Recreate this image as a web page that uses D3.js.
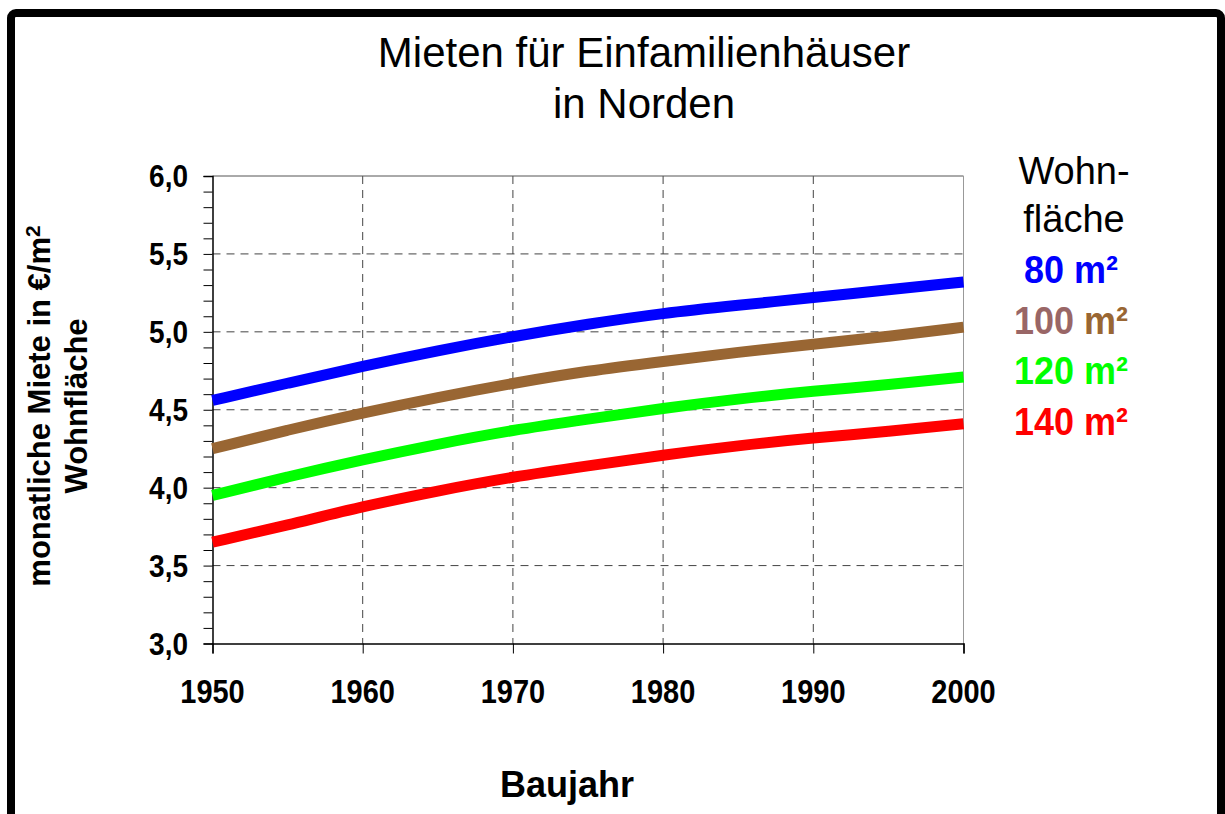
<!DOCTYPE html>
<html>
<head>
<meta charset="utf-8">
<script src="https://cdnjs.cloudflare.com/ajax/libs/d3/7.8.5/d3.min.js"></script>
<style>
  body { margin: 0; background: #fff; }
  text { font-family: "Liberation Sans", Arial, sans-serif; }
</style>
</head>
<body>
<div id="chart"></div>
<script>
var years = [1950, 1955, 1960, 1965, 1970, 1975, 1980, 1985, 1990, 1995, 2000];
var rent80  = [4.56, 4.67, 4.78, 4.88, 4.97, 5.05, 5.12, 5.17, 5.22, 5.27, 5.32];
var rent100 = [4.25, 4.37, 4.48, 4.58, 4.67, 4.75, 4.81, 4.87, 4.92, 4.97, 5.03];
var rent120 = [3.95, 4.07, 4.18, 4.28, 4.37, 4.44, 4.51, 4.57, 4.62, 4.66, 4.71];
var rent140 = [3.65, 3.76, 3.88, 3.98, 4.07, 4.14, 4.21, 4.27, 4.32, 4.36, 4.41];
var xTicks = [1950, 1960, 1970, 1980, 1990, 2000];
var yTicks = [3.0, 3.5, 4.0, 4.5, 5.0, 5.5, 6.0];

(function() {
    var width = 1225,
        height = 814;

    var svg = d3.select("#chart")
        .append("svg")
        .attr("width", width)
        .attr("height", height);

    svg.append("rect")
        .attr("width", width)
        .attr("height", height)
        .attr("fill", "#fff");

    // outer frame, bottom edge runs off the picture
    svg.append("rect")
        .attr("x", 11)
        .attr("y", 13)
        .attr("width", 1210)
        .attr("height", 900)
        .attr("rx", 5)
        .attr("fill", "none")
        .attr("stroke", "#000")
        .attr("stroke-width", 8);

    var x = d3.scaleLinear().domain([1950, 2000]).range([212.5, 963.5]);
    var y = d3.scaleLinear().domain([3, 6]).range([643.5, 176]);

    var series = [
        { name: "80", values: rent80, color: "#0000ff" },
        { name: "100", values: rent100, color: "#996633" },
        { name: "120", values: rent120, color: "#00ff00" },
        { name: "140", values: rent140, color: "#ff0000" }
    ];

    // grid
    svg.append("g")
        .selectAll("line")
        .data(yTicks.filter(function(d) { return d > 3 && d < 6; }))
        .enter().append("line")
        .attr("x1", x(1950))
        .attr("x2", x(2000))
        .attr("y1", function(d) { return y(d); })
        .attr("y2", function(d) { return y(d); })
        .attr("stroke", "#444")
        .attr("stroke-dasharray", "8,6");

    svg.append("g")
        .selectAll("line")
        .data(xTicks.slice(1))
        .enter().append("line")
        .attr("x1", function(d) { return x(d); })
        .attr("x2", function(d) { return x(d); })
        .attr("y1", y(6))
        .attr("y2", y(3))
        .attr("stroke", "#444")
        .attr("stroke-dasharray", "8,6");

    svg.append("line")
        .attr("x1", x(1950)).attr("x2", x(2000))
        .attr("y1", y(6)).attr("y2", y(6))
        .attr("stroke", "#555");

    svg.append("line")
        .attr("x1", x(2000)).attr("x2", x(2000))
        .attr("y1", y(6)).attr("y2", y(3))
        .attr("stroke", "#999");

    // axes
    var yAxis = d3.axisLeft(y)
        .tickValues(d3.range(30, 61).map(function(d) { return d / 10; }))
        .tickSize(9)
        .tickFormat("");

    svg.append("g")
        .attr("transform", "translate(" + x(1950) + ",0)")
        .call(yAxis)
        .call(function(g) {
            g.select(".domain").attr("stroke", "#000").attr("stroke-width", 1.5);
            g.selectAll(".tick line").attr("stroke", "#000");
        });

    svg.append("g")
        .selectAll("text")
        .data(yTicks)
        .enter().append("text")
        .attr("transform", function(d) { return "translate(188," + y(d) + ") scale(1,1.12)"; })
        .attr("dy", "0.36em")
        .attr("text-anchor", "end")
        .attr("font-size", 28)
        .attr("font-weight", "bold")
        .text(function(d) { return d3.format(".1f")(d).replace(".", ","); });

    var xAxis = d3.axisBottom(x)
        .tickValues(xTicks)
        .tickSize(10)
        .tickFormat("");

    svg.append("g")
        .attr("transform", "translate(0," + y(3) + ")")
        .call(xAxis)
        .call(function(g) {
            g.select(".domain").attr("stroke", "#000").attr("stroke-width", 1.5);
            g.selectAll(".tick line").attr("stroke", "#000");
        });

    svg.append("g")
        .selectAll("text")
        .data(xTicks)
        .enter().append("text")
        .attr("transform", function(d) { return "translate(" + x(d) + ",703) scale(1,1.12)"; })
        .attr("text-anchor", "middle")
        .attr("font-size", 29)
        .attr("font-weight", "bold")
        .text(function(d) { return d; });

    // lines
    var line = d3.line()
        .x(function(d, i) { return x(years[i]); })
        .y(function(d) { return y(d); })
        .curve(d3.curveBasis);

    svg.append("g")
        .selectAll("path")
        .data(series)
        .enter().append("path")
        .attr("d", function(d) { return line(d.values); })
        .attr("fill", "none")
        .attr("stroke", function(d) { return d.color; })
        .attr("stroke-width", 11);

    // titles
    var title = svg.append("text")
        .attr("text-anchor", "middle")
        .attr("font-size", 42);
    title.append("tspan").attr("x", 644).attr("y", 67).text("Mieten für Einfamilienhäuser");
    title.append("tspan").attr("x", 644).attr("y", 118).text("in Norden");

    svg.append("text")
        .attr("x", 567)
        .attr("y", 797)
        .attr("text-anchor", "middle")
        .attr("font-size", 36)
        .attr("font-weight", "bold")
        .text("Baujahr");

    var yTitle = svg.append("text")
        .attr("transform", "translate(50,406) rotate(-90)")
        .attr("text-anchor", "middle")
        .attr("font-size", 31)
        .attr("font-weight", "bold");
    var t1 = yTitle.append("tspan").attr("x", 0).attr("y", 0);
    t1.append("tspan").text("monatliche Miete in €/m");
    t1.append("tspan").attr("font-size", 21).attr("dy", -10).text("2");
    yTitle.append("tspan").attr("x", 0).attr("y", 37).text("Wohnfläche");

    // legend
    var legend = svg.append("g").attr("text-anchor", "middle");
    legend.append("text").attr("x", 1074).attr("y", 184).attr("font-size", 38).text("Wohn-");
    legend.append("text").attr("x", 1074).attr("y", 232).attr("font-size", 38).text("fläche");

    var legendItems = legend.selectAll(".item")
        .data(series)
        .enter().append("text")
        .attr("class", "item")
        .attr("transform", function(d, i) { return "translate(1071," + (283 + i * 50.5) + ") scale(1,1.08)"; })
        .attr("font-size", 36)
        .attr("font-weight", "bold")
        .attr("fill", function(d) { return d.color; });

    legendItems.append("tspan")
        .attr("fill", function(d) { return d.name === "100" ? "#996666" : d.color; })
        .text(function(d) { return d.name + " "; });
    legendItems.append("tspan").text("m²");
})();
</script>
</body>
</html>
